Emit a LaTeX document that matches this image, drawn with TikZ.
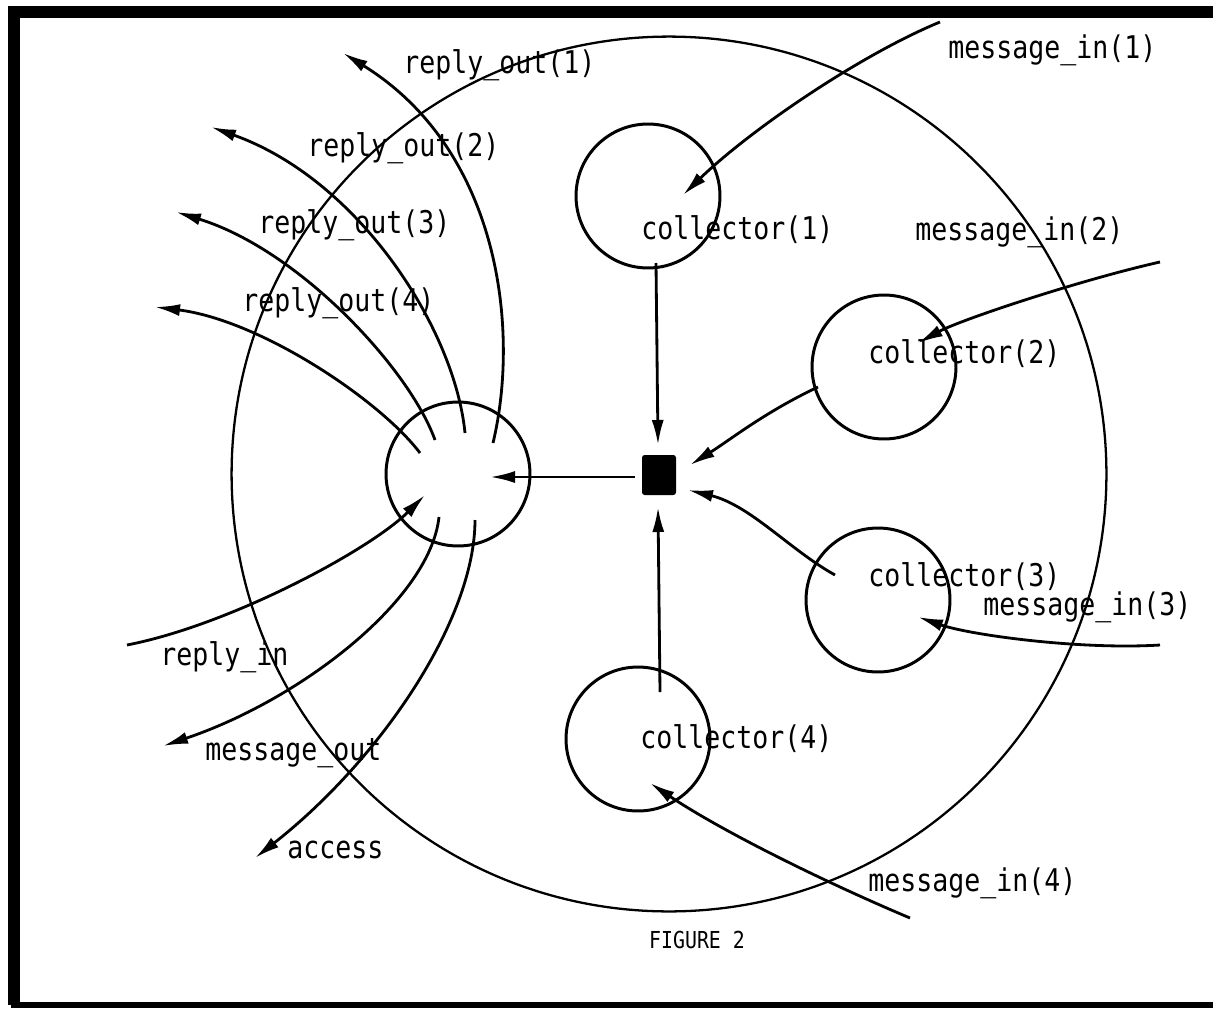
\documentclass[tikz,border=0pt]{standalone}
\usepackage{fontspec}
\newfontfamily\monofig[FakeStretch=0.85]{DejaVu Sans Mono}
\usetikzlibrary{arrows.meta}
\begin{document}
\begin{tikzpicture}[x=0.02cm,y=-0.02cm,
  lbl/.style={font=\monofig\fontsize{17.8}{20}\selectfont, anchor=mid west, inner sep=0pt},
  circ/.style={draw, circle, line width=1.7pt, minimum size=2.88cm, inner sep=0pt},
  conn/.style={line width=1.6pt, -{Latex[length=0.5cm,width=0.24cm]}},
]
\useasboundingbox (0,0) rectangle (1213,1014);
% frame
\draw[line width=6.8pt] (1213,12) -- (14,12) -- (14,1005);
\draw[line width=3.5pt] (11,1005) -- (1213,1005);

% circles
\node[draw, circle, line width=1.3pt, minimum size=17.5cm, inner sep=0pt] (sys) at (669,474) {};
\node[circ] (proc) at (458,474) {};
\node[circ] (c1) at (648,196) {};
\node[circ] (c2) at (884,367) {};
\node[circ] (c3) at (878,600) {};
\node[circ] (c4) at (638,739) {};
\node[fill=black, rounded corners=1.5pt, minimum width=0.68cm, minimum height=0.8cm, inner sep=0pt] (sq) at (659,475) {};

% inner points
\coordinate (c1o) at (656,263);
\coordinate (c4o) at (660,692);
\coordinate (c2o) at (818,387);
\coordinate (c3o) at (835,575);
\coordinate (procin) at (490,477);
\coordinate (sqN) at (658,445);
\coordinate (sqS) at (658,507);
\coordinate (sqNE) at (690,465);
\coordinate (sqSE) at (688,490);
\coordinate (sqW) at (635,477);

% collectors to square, square to process
\draw[conn] (c1o) -- (sqN);
\draw[conn] (c4o) -- (sqS);
\draw[conn] (c2o) .. controls (765,412) and (730,440) .. (sqNE);
\draw[conn] (c3o) .. controls (790,550) and (750,505) .. (sqSE);
\draw[conn] (sqW) -- (procin);

% reply_out
\coordinate (ro1s) at (493,443); \coordinate (ro1e) at (343,53);
\coordinate (ro2s) at (465,433); \coordinate (ro2e) at (211,127);
\coordinate (ro3s) at (435,440); \coordinate (ro3e) at (176,212);
\coordinate (ro4s) at (420,453); \coordinate (ro4e) at (155,307);
\draw[conn] (ro1s) .. controls (520,330) and (500,150) .. (ro1e);
\draw[conn] (ro2s) .. controls (455,330) and (360,180) .. (ro2e);
\draw[conn] (ro3s) .. controls (410,370) and (300,250) .. (ro3e);
\draw[conn] (ro4s) .. controls (380,400) and (260,320) .. (ro4e);

% reply_in, message_out, access
\coordinate (ris) at (127,645); \coordinate (rie) at (425,495);
\draw[conn] (ris) .. controls (230,625) and (370,550) .. (rie);
\coordinate (mos) at (439,517); \coordinate (moe) at (163,746);
\draw[conn] (mos) .. controls (430,600) and (300,700) .. (moe);
\coordinate (acs) at (475,520); \coordinate (ace) at (255,858);
\draw[conn] (acs) .. controls (475,620) and (380,760) .. (ace);

% message_in
\coordinate (mi1s) at (940,22); \coordinate (mi1e) at (683,195);
\draw[conn] (mi1s) .. controls (860,55) and (750,130) .. (mi1e);
\coordinate (mi2s) at (1160,262); \coordinate (mi2e) at (918,343);
\draw[conn] (mi2s) .. controls (1080,280) and (960,320) .. (mi2e);
\coordinate (mi3s) at (1160,645); \coordinate (mi3e) at (918,617);
\draw[conn] (mi3s) .. controls (1080,650) and (970,635) .. (mi3e);
\coordinate (mi4s) at (910,918); \coordinate (mi4e) at (650,783);
\draw[conn] (mi4s) .. controls (820,880) and (720,830) .. (mi4e);

% labels
\node[lbl] (tro1) at (403,70) {reply\_out(1)};
\node[lbl] (tro2) at (307,153) {reply\_out(2)};
\node[lbl] (tro3) at (258,230) {reply\_out(3)};
\node[lbl] (tro4) at (242,308) {reply\_out(4)};
\node[lbl] (tri) at (160,662) {reply\_in};
\node[lbl] (tmo) at (205,757) {message\_out};
\node[lbl] (tac) at (287,855) {access};
\node[lbl] (tc1) at (641,236) {collector(1)};
\node[lbl] (tc2) at (868,360) {collector(2)};
\node[lbl] (tc3) at (868,583) {collector(3)};
\node[lbl] (tc4) at (640,745) {collector(4)};
\node[lbl] (tmi1) at (948,55) {message\_in(1)};
\node[lbl] (tmi2) at (915,237) {message\_in(2)};
\node[lbl] (tmi3) at (983,612) {message\_in(3)};
\node[lbl] (tmi4) at (868,888) {message\_in(4)};
\node[font=\monofig\fontsize{13.3}{16}\selectfont, inner sep=0pt] (fig) at (697,940) {FIGURE 2};
\end{tikzpicture}
\end{document}
